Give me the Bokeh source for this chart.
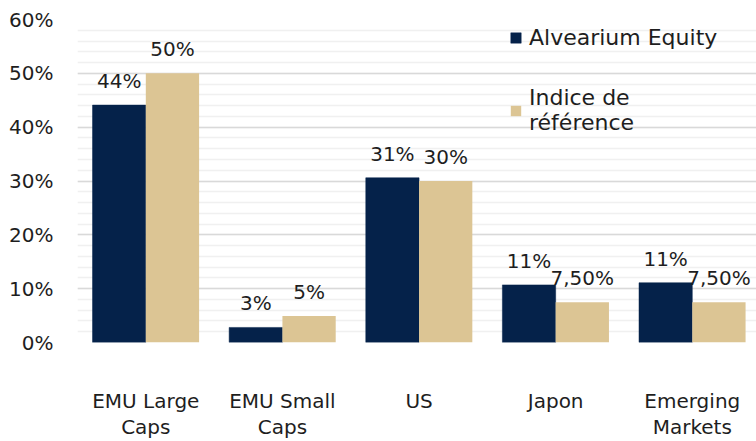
import numpy as np
from bokeh.plotting import figure
from bokeh.models import (ColumnDataSource, LabelSet, Legend, LegendItem, Range1d,
                          SingleIntervalTicker, FixedTicker, PrintfTickFormatter)
from bokeh.core.properties import value
from bokeh.embed import file_html
from bokeh.resources import INLINE

categories = ["EMU Large\nCaps", "EMU Small\nCaps", "US", "Japon", "Emerging\nMarkets"]
alvearium = [44.1, 2.8, 30.6, 10.7, 11.1]
indice = [50.0, 4.9, 30.0, 7.5, 7.5]
alvearium_labels = ["44%", "3%", "31%", "11%", "11%"]
indice_labels = ["50%", "5%", "30%", "7,50%", "7,50%"]
series_names = ["Alvearium Equity", "Indice de\nréférence"]

NAVY = "#05224A"
BEIGE = "#DCC594"
TXT = "#1E1E1E"
FONT = "DejaVu Sans"

idx = np.arange(len(categories))
bw = 0.39
src_a = ColumnDataSource(dict(x=idx - bw / 2, top=alvearium, lab=alvearium_labels))
src_b = ColumnDataSource(dict(x=idx + bw / 2, top=indice, lab=indice_labels))

p = figure(width=756, height=441, output_backend="svg", toolbar_location=None,
           x_range=Range1d(-0.5, 4.47), y_range=Range1d(0, 60),
           min_border_left=77, min_border_right=0, min_border_top=19, min_border_bottom=95)
p.outline_line_color = None
p.background_fill_color = "white"

ra = p.vbar(x="x", top="top", width=bw, source=src_a, fill_color=NAVY, line_color=NAVY, line_width=0.5)
rb = p.vbar(x="x", top="top", width=bw, source=src_b, fill_color=BEIGE, line_color=None)

for s in (src_a, src_b):
    p.add_layout(LabelSet(x="x", y="top", text="lab", source=s, text_align="center",
                          text_baseline="alphabetic", y_offset=17, text_font=value(FONT),
                          text_font_size="20px", text_color=TXT))

# y axis
p.yaxis.ticker = SingleIntervalTicker(interval=10, num_minor_ticks=5)
p.yaxis.formatter = PrintfTickFormatter(format="%d%%")
p.yaxis.axis_line_color = None
p.yaxis.major_tick_line_color = None
p.yaxis.minor_tick_line_color = None
p.yaxis.major_tick_in = 0
p.yaxis.major_tick_out = 0
p.yaxis.major_label_standoff = 20
p.yaxis.major_label_text_font = FONT
p.yaxis.major_label_text_font_size = "20px"
p.yaxis.major_label_text_color = TXT

# x axis
p.xaxis.ticker = FixedTicker(ticks=list(idx))
p.xaxis.major_label_overrides = {int(i): c for i, c in zip(idx, categories)}
p.xaxis.axis_line_color = None
p.xaxis.major_tick_line_color = None
p.xaxis.minor_tick_line_color = None
p.xaxis.major_tick_in = 0
p.xaxis.major_tick_out = 0
p.xaxis.major_label_standoff = 46
p.xaxis.major_label_text_font = FONT
p.xaxis.major_label_text_font_size = "20px"
p.xaxis.major_label_text_line_height = 1.1
p.xaxis.major_label_text_color = TXT

p.xgrid.grid_line_color = None
p.ygrid.grid_line_color = "#D9D9D9"
p.ygrid.grid_line_width = 1.5
p.ygrid.minor_grid_line_color = "#F0F0F0"
p.ygrid.minor_grid_line_width = 1.5

legend = Legend(items=[LegendItem(label=series_names[0], renderers=[ra]),
                       LegendItem(label=series_names[1], renderers=[rb])],
                location=(432, 207), background_fill_alpha=0, border_line_color=None,
                glyph_width=13, glyph_height=13, label_text_font=FONT,
                label_text_font_size="22px", label_text_color=TXT,
                label_text_line_height=1.32,
                spacing=35, padding=0, margin=0, label_standoff=7)
p.add_layout(legend)

open("out.html", "w").write(file_html(p, INLINE))
